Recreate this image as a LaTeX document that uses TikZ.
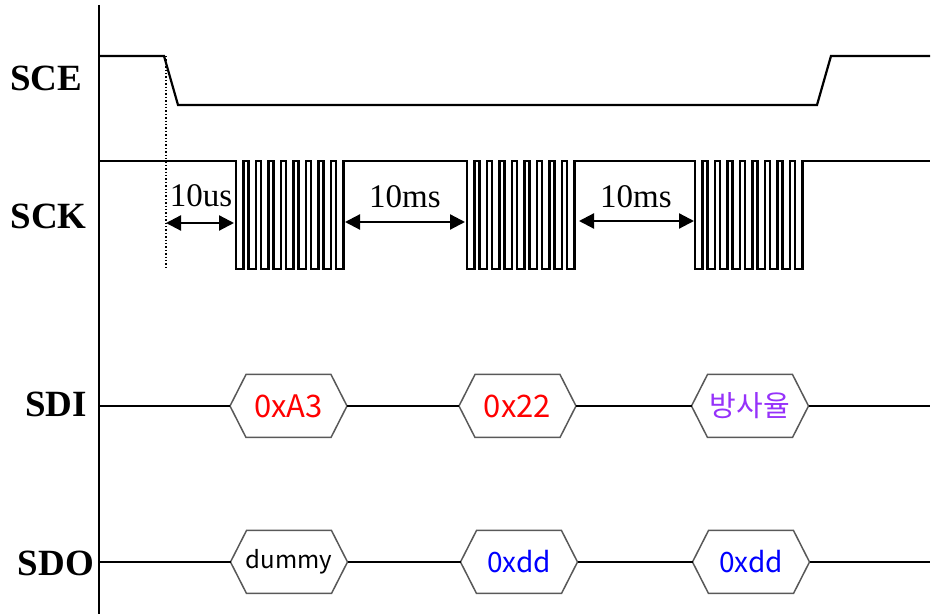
\documentclass[tikz,border=0pt]{standalone}
\usepackage{fontspec}
\setmainfont{Liberation Serif}
\newfontfamily\krfont{Noto Sans CJK KR}
\usetikzlibrary{arrows.meta}

\definecolor{datared}{RGB}{255,0,0}
\definecolor{datablue}{RGB}{0,0,255}
\definecolor{dataviolet}{RGB}{150,50,250}

\begin{document}
\begin{tikzpicture}[x=0.5pt,y=-0.5pt,
	sig/.style={line width=1.1pt},
	lbl/.style={font=\fontsize{18.5}{20}\selectfont\bfseries},
	gap/.style={font=\fontsize{16.5}{18}\selectfont},
	dim/.style={line width=1.1pt,{Triangle[length=7.5pt,width=7.5pt]}-{Triangle[length=7.5pt,width=7.5pt]}},
	word/.style={minimum width=58.5pt,minimum height=31.5pt,inner sep=0pt,outer sep=0pt,font=\krfont\fontsize{15.5}{17}\selectfont},
	hexline/.style={draw=black!65,line width=0.75pt}]
	\useasboundingbox (0,0) rectangle (934,614);

	% signal names
	\node[lbl] (sce) at (46,78) {SCE};
	\node[lbl] (sck) at (48.5,216) {SCK};
	\node[lbl] (sdi) at (56,404) {SDI};
	\node[lbl] (sdo) at (56,563) {SDO};

	% left border
	\draw[line width=1.1pt] (99,5) -- (99,614);

	% chip enable
	\draw[sig] (99,56) -- (164,56) -- (178,105) -- (817,105) -- (831,56) -- (930,56);

	% clock, three bursts of 8 pulses
	\draw[sig] (99,161) \foreach \s in {236,467,695} {
		-- (\s,161) \foreach \k in {0,...,8} {-- ++(0,108) -- ++(7.5,0) -- ++(0,-108) -- ++(5,0)}
		} -- (930,161);

	% setup mark
	\coordinate (fall) at (166,56);
	\coordinate (mark) at (166,270);
	\draw[densely dotted,line width=0.7pt] (fall) -- (mark);

	% delays
	\coordinate (us1) at (166,223);
	\coordinate (us2) at (234,223);
	\coordinate (ms1) at (345,222);
	\coordinate (ms2) at (465,222);
	\coordinate (ms3) at (579,221);
	\coordinate (ms4) at (694,221);
	\draw[dim] (us1) -- (us2);
	\draw[dim] (ms1) -- (ms2);
	\draw[dim] (ms3) -- (ms4);
	\node[gap] (t1) at (201,196) {10us};
	\node[gap] (t2) at (405,197) {10ms};
	\node[gap] (t3) at (636,197) {10ms};

	% data in
	\node[word,text=datared] (di1) at (288.5,406) {0xA3};
	\node[word,text=datared] (di2) at (517.5,406) {0x22};
	\node[word,text=dataviolet,font=\krfont\fontsize{14.5}{16}\selectfont] (di3) at (750,406) {방사율};
	% data out
	\node[word,font=\krfont\fontsize{12}{14}\selectfont] (do1) at (289,562) {dummy};
	\node[word,text=datablue,font=\krfont\fontsize{14}{16}\selectfont] (do2) at (519,562) {0xdd};
	\node[word,text=datablue,font=\krfont\fontsize{14}{16}\selectfont] (do3) at (751,562) {0xdd};

	\foreach \n in {di1,di2,di3,do1,do2,do3}
		\draw[hexline] (\n.west) -- ([xshift=8pt]\n.north west) -- ([xshift=-8pt]\n.north east)
			-- (\n.east) -- ([xshift=-8pt]\n.south east) -- ([xshift=8pt]\n.south west) -- cycle;

	\coordinate (diStart) at (99,406);
	\coordinate (diEnd) at (930,406);
	\coordinate (doStart) at (99,562);
	\coordinate (doEnd) at (930,562);
	\draw[sig] (diStart) -- (di1.west) (di1.east) -- (di2.west) (di2.east) -- (di3.west) (di3.east) -- (diEnd);
	\draw[sig] (doStart) -- (do1.west) (do1.east) -- (do2.west) (do2.east) -- (do3.west) (do3.east) -- (doEnd);

\end{tikzpicture}
\end{document}
